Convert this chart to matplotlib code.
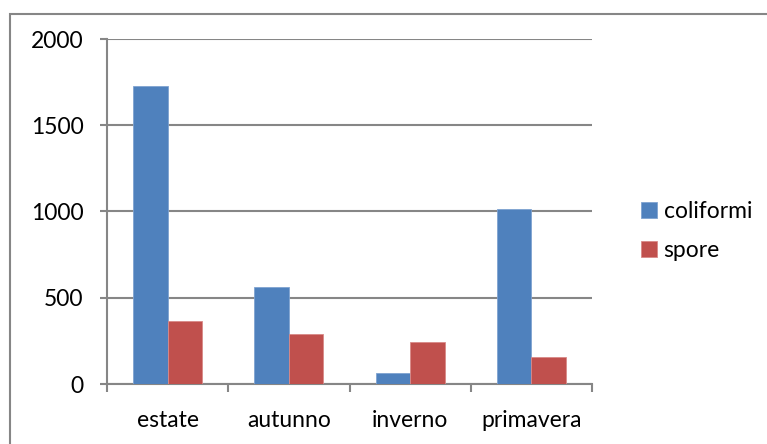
import matplotlib.pyplot as plt
import numpy as np
from matplotlib.patches import Rectangle

plt.rcParams['font.family'] = ['Lato', 'DejaVu Sans']

# Dati stagionali
stagioni = ['estate', 'autunno', 'inverno', 'primavera']
coliformi = [1728, 560, 62, 1012]
spore = [367, 290, 243, 156]

blu = '#4F81BD'
rosso = '#C0504D'
grigio = '#868686'

fig = plt.figure(figsize=(7.67, 4.44), dpi=100)
ax = fig.add_axes([107 / 767, 1 - 384 / 444, 485 / 767, 345 / 444])

x = np.arange(len(stagioni))
w = 0.285
ax.bar(x - w / 2, coliformi, width=w, color=blu, edgecolor='#7FA3D1', linewidth=0.6, label='coliformi', zorder=3)
ax.bar(x + w / 2, spore, width=w, color=rosso, edgecolor='#D98A88', linewidth=0.6, label='spore', zorder=3)

ax.set_xlim(-0.5, len(stagioni) - 0.5)
ax.set_ylim(0, 2000)
ax.set_yticks(np.arange(0, 2001, 500))
ax.yaxis.grid(True, color=grigio, linewidth=1.5, zorder=0)

# tacche sull'asse x ai confini delle categorie
ax.set_xticks(x)
ax.set_xticklabels(stagioni)
ax.set_xticks(np.arange(-0.5, len(stagioni)), minor=True)
ax.tick_params(axis='x', which='major', length=0, pad=19, labelsize=16.5)
ax.tick_params(axis='x', which='minor', length=6, width=1.5, color=grigio, direction='out')
ax.tick_params(axis='y', length=5, width=1.5, color=grigio, pad=12, labelsize=16.5)

for lato in ['top', 'right']:
    ax.spines[lato].set_visible(False)
for lato in ['left', 'bottom']:
    ax.spines[lato].set_color(grigio)
    ax.spines[lato].set_linewidth(1.5)

ax.legend(loc='center left', bbox_to_anchor=(620 / 767, 1 - 231 / 444),
          bbox_transform=fig.transFigure, frameon=False, fontsize=16.5,
          handlelength=0.7, handleheight=0.7, handletextpad=0.3, labelspacing=0.75)

# cornice esterna del grafico
fig.patches.append(Rectangle((10 / 767, -0.1), 1.2, 1 - 14 / 444 + 0.1, transform=fig.transFigure,
                             fill=False, edgecolor=grigio, linewidth=1.5))

fig.savefig('out.png', dpi=100)
